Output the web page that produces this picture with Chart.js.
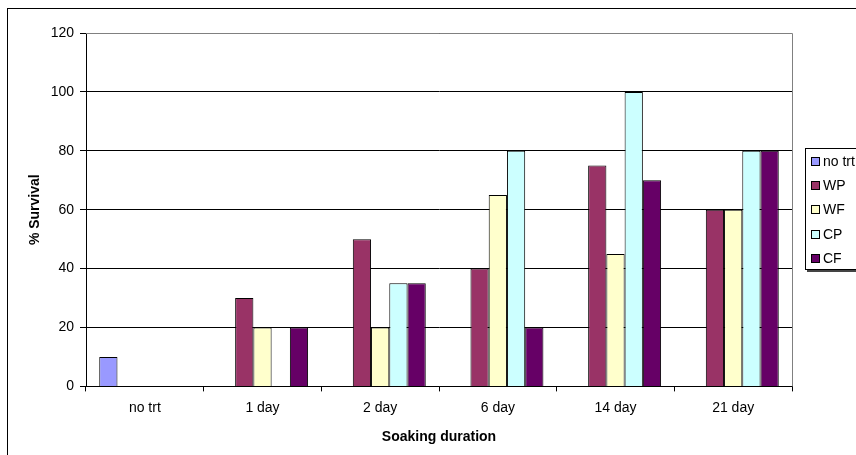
<!DOCTYPE html>
<html>
<head>
<meta charset="utf-8">
<script src="https://cdn.jsdelivr.net/npm/chart.js@4/dist/chart.umd.min.js"></script>
<style>
    html, body { margin: 0; padding: 0; background: #fff; }
    #wrap { position: relative; width: 856px; height: 455px; overflow: hidden; font-family: 'Liberation Sans', Arial, sans-serif; }
    #frame { position: absolute; left: 7px; top: 8px; width: 900px; height: 500px; border: 1px solid #000; box-sizing: border-box; }
    #legend { position: absolute; left: 805px; top: 148px; width: 80px; height: 122px; border: 1px solid #000; background: #fff; box-shadow: 2px 2px 0 #444; box-sizing: border-box; }
    .item { position: absolute; left: 5px; font-size: 14px; line-height: 15px; white-space: nowrap; color: #000; }
    .sw { display: inline-block; width: 7px; height: 7px; border: 1px solid #000; margin-right: 3px; vertical-align: 0px; }
    canvas { position: absolute; left: 0; top: 0; }
</style>
</head>
<body>
<div id="wrap">
    <div id="frame"></div>
    <canvas id="chart" width="856" height="455"></canvas>
    <div id="legend"></div>
</div>
<script>
// Soaking duration vs % survival
const categories = ['no trt', '1 day', '2 day', '6 day', '14 day', '21 day'];
const seriesNames = ['no trt', 'WP', 'WF', 'CP', 'CF'];
const noTrt = [10, 0, 0, 0, 0, 0];
const wp = [0, 30, 50, 40, 75, 60];
const wf = [0, 20, 20, 65, 45, 60];
const cp = [0, 0, 35, 80, 100, 80];
const cf = [0, 20, 35, 20, 70, 80];
const yTicks = [0, 20, 40, 60, 80, 100, 120];

const seriesColors = ['#9999FF', '#993366', '#FFFFCC', '#CCFFFF', '#660066'];
const seriesData = [noTrt, wp, wf, cp, cf];

const datasets = seriesNames.map((name, i) => ({
    label: name,
    data: seriesData[i],
    backgroundColor: seriesColors[i],
    borderColor: '#000',
    borderWidth: 1,
    borderSkipped: 'bottom',
    categoryPercentage: 0.775,
    barPercentage: 1
}));

// gray border on top and right of plot area
const plotBorder = {
    id: 'plotBorder',
    afterDatasetsDraw(chart) {
        const { ctx, chartArea: a } = chart;
        ctx.save();
        ctx.strokeStyle = '#808080';
        ctx.lineWidth = 1;
        ctx.beginPath();
        ctx.moveTo(a.left, a.top + 0.5);
        ctx.lineTo(a.right + 0.5, a.top + 0.5);
        ctx.lineTo(a.right + 0.5, a.bottom);
        ctx.stroke();
        ctx.restore();
    }
};

const font = { family: "'Liberation Sans', Arial, sans-serif", size: 14 };

new Chart(document.getElementById('chart').getContext('2d'), {
    type: 'bar',
    data: { labels: categories, datasets },
    plugins: [plotBorder],
    options: {
        responsive: false,
        animation: false,
        layout: { padding: { top: 33, right: 64, bottom: 0, left: 27 } },
        plugins: { legend: { display: false }, tooltip: { enabled: false } },
        scales: {
            x: {
                offset: true,
                grid: { offset: true, drawOnChartArea: false, drawTicks: true, tickLength: 5, color: '#000' },
                border: { color: '#000', width: 1 },
                ticks: { color: '#000', font, padding: 8, maxRotation: 0 },
                title: { display: true, text: 'Soaking duration', color: '#000', font: { ...font, weight: 'bold' }, padding: { top: 5, bottom: 9 } }
            },
            y: {
                min: 0,
                max: 120,
                afterBuildTicks: scale => { scale.ticks = yTicks.map(v => ({ value: v })); },
                grid: { color: '#000', tickLength: 6, drawTicks: true },
                border: { color: '#000', width: 1 },
                ticks: { color: '#000', font, padding: 6 },
                title: { display: true, text: '% Survival', color: '#000', font: { ...font, weight: 'bold' }, padding: { top: 0, bottom: 10 } },
                afterFit: scale => { scale.width = 59; }
            }
        }
    }
});

// legend (Excel-style, cut off at the right)
const legend = document.getElementById('legend');
const itemTops = [5, 29, 53, 78, 102];
seriesNames.forEach((name, i) => {
    const d = document.createElement('div');
    d.className = 'item';
    d.style.top = itemTops[i] + 'px';
    d.innerHTML = '<span class="sw" style="background:' + seriesColors[i] + '"></span>' + name;
    legend.appendChild(d);
});
</script>
</body>
</html>
